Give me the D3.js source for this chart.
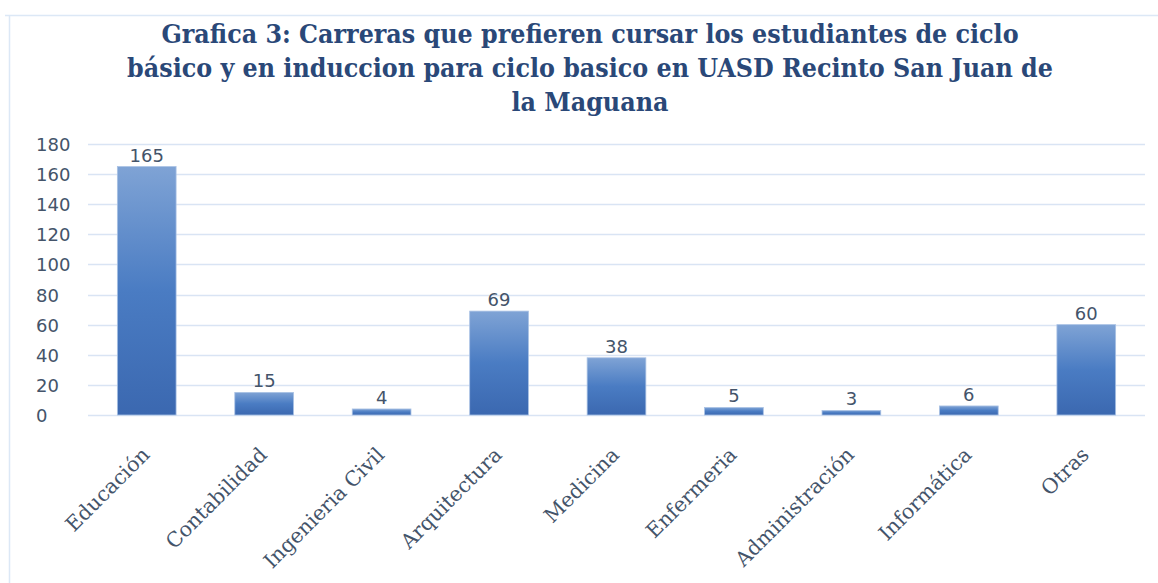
<!DOCTYPE html>
<html>
<head>
<meta charset="utf-8">
<script src="https://cdn.jsdelivr.net/npm/d3@7"></script>
<style>
  body { margin: 0; background: #fff; }
  svg { display: block; }
</style>
</head>
<body>
<svg id="chart" width="1158" height="583"></svg>
<script>
"use strict";
var titleLines = [
  "Grafica 3: Carreras que prefieren cursar los estudiantes de ciclo",
  "básico y en induccion para ciclo basico en UASD Recinto San Juan de",
  "la Maguana"
];
var carreras = ["Educación", "Contabilidad", "Ingenieria Civil", "Arquitectura",
  "Medicina", "Enfermeria", "Administración", "Informática", "Otras"];
var estudiantes = [165, 15, 4, 69, 38, 5, 3, 6, 60];
var yTicks = [0, 20, 40, 60, 80, 100, 120, 140, 160, 180];

var svg = d3.select("#chart"),
    margin = {top: 144, right: 13, bottom: 168, left: 88},
    width = 1158 - margin.left - margin.right,
    height = 583 - margin.top - margin.bottom;

var labelColor = "#44546a", gridColor = "#d9e4f4";

// gradient for bars
var grad = svg.append("defs").append("linearGradient")
  .attr("id", "barGrad").attr("x1", 0).attr("y1", 0).attr("x2", 0).attr("y2", 1);
grad.append("stop").attr("offset", "0%").attr("stop-color", "#7fa3d5");
grad.append("stop").attr("offset", "50%").attr("stop-color", "#4a7cc3");
grad.append("stop").attr("offset", "100%").attr("stop-color", "#3b68b0");

// frame
svg.append("path")
  .attr("d", "M5,15.5H1158M9.5,15V583")
  .attr("stroke", "#dce8f6").attr("stroke-width", 1.5).attr("fill", "none");

// title
svg.append("g").selectAll("text")
  .data(titleLines)
  .join("text")
  .attr("x", 590)
  .attr("y", (d, i) => 43 + i * 34)
  .attr("text-anchor", "middle")
  .attr("font-family", "'DejaVu Serif Condensed', 'DejaVu Serif', serif")
  .attr("font-weight", "bold")
  .attr("font-size", 26.5)
  .attr("fill", "#2a4878")
  .text(d => d);

var plot = svg.append("g")
  .attr("transform", "translate(" + margin.left + "," + margin.top + ")");

var x = d3.scaleBand().domain(carreras).range([0, width]).paddingInner(0.5).paddingOuter(0.25);
var y = d3.scaleLinear().domain([0, 180]).range([height, 0]);

// gridlines
plot.append("g")
  .selectAll("line")
  .data(yTicks)
  .join("line")
  .attr("x1", 0).attr("x2", width)
  .attr("y1", d => Math.round(y(d)) + 0.5).attr("y2", d => Math.round(y(d)) + 0.5)
  .attr("stroke", gridColor).attr("stroke-width", 1.6);

// y labels, left aligned as in the original
var yAxis = svg.append("g")
  .attr("transform", "translate(36," + margin.top + ")")
  .call(d3.axisLeft(y).tickValues(yTicks).tickSize(0).tickPadding(0));
yAxis.select(".domain").remove();
yAxis.selectAll("text")
  .attr("text-anchor", "start")
  .attr("dy", "0.36em")
  .attr("font-family", "'DejaVu Sans', sans-serif")
  .attr("font-size", 18)
  .attr("fill", labelColor);

// bars
plot.append("g")
  .selectAll("rect")
  .data(estudiantes)
  .join("rect")
  .attr("x", (d, i) => x(carreras[i]))
  .attr("y", d => y(d))
  .attr("width", x.bandwidth())
  .attr("height", d => height - y(d))
  .attr("fill", "url(#barGrad)")
  .attr("stroke", "#a9c1e4").attr("stroke-width", 0.8);

// data labels
plot.append("g")
  .selectAll("text")
  .data(estudiantes)
  .join("text")
  .attr("x", (d, i) => x(carreras[i]) + x.bandwidth() / 2)
  .attr("y", d => y(d) - 5)
  .attr("text-anchor", "middle")
  .attr("font-family", "'DejaVu Sans', sans-serif")
  .attr("font-size", 18)
  .attr("fill", labelColor)
  .text(d => d);

// x labels
var xAxis = plot.append("g")
  .attr("transform", "translate(0," + height + ")")
  .call(d3.axisBottom(x).tickSize(0).tickPadding(0));
xAxis.select(".domain").remove();
xAxis.selectAll("text")
  .attr("text-anchor", "end")
  .attr("dy", 0)
  .attr("y", 0)
  .attr("transform", "translate(4,41) rotate(-45)")
  .attr("font-family", "'DejaVu Serif', serif")
  .attr("font-size", 20.5)
  .attr("fill", labelColor);
</script>
</body>
</html>
